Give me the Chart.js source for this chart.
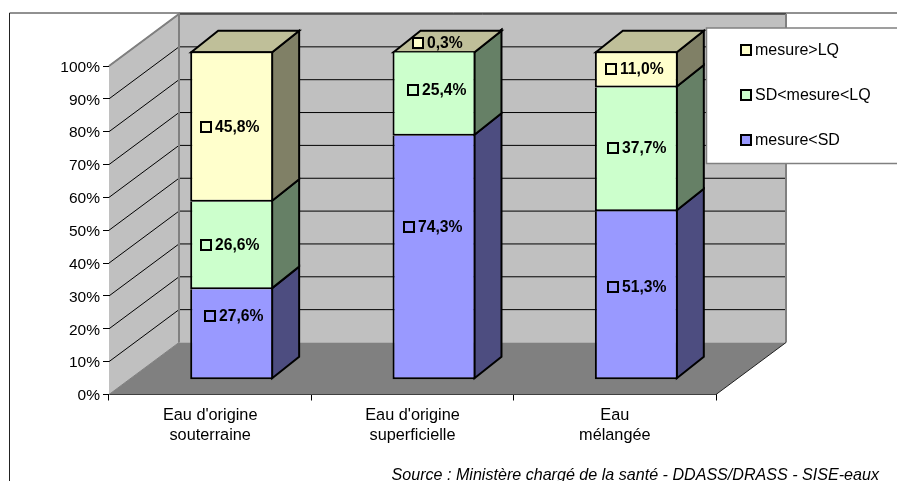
<!DOCTYPE html>
<html>
<head>
<meta charset="utf-8">
<style>html,body{margin:0;padding:0;background:#fff}canvas{display:block}</style>
<script src="https://cdn.jsdelivr.net/npm/chart.js@4"></script>
</head>
<body>
<canvas id="c" width="897" height="481"></canvas>
<script>
const categories = [["Eau d'origine", "souterraine"], ["Eau d'origine", "superficielle"], ["Eau", "mélangée"]];
const belowSD = [27.6, 74.3, 51.3];
const betweenSDLQ = [26.6, 25.4, 37.7];
const aboveLQ = [45.8, 0.3, 11.0];
const seriesNames = ["mesure<SD", "SD<mesure<LQ", "mesure>LQ"];
const sourceText = "Source : Ministère chargé de la santé - DDASS/DRASS - SISE-eaux";
const FONT = '"Liberation Sans", Arial, sans-serif';
const fill = ["#9999FF", "#CCFFCC", "#FFFFCC"];
const side = ["#4D4D80", "#668066", "#808066"];
const topColor = "#BFBF99";
// manual label nudges [dx of key from bar centre, dy from segment centre], per dataset then category
const nudges = [
  [[-27, -18], [-30.5, -31], [-28, -8]],
  [[-31, 0], [-26.5, -4.5], [-28, -1]],
  [[-31, 0], [-21.5, -9], [-30, 0]]
];
const WALL = { dx: 70, dy: -52 };
const BAR = { dx: 21.5, dy: -14.7, depthX: 27, depthY: -21.5 };

function poly(ctx, pts, f, s, w) {
  ctx.beginPath();
  pts.forEach((p, i) => i ? ctx.lineTo(p[0], p[1]) : ctx.moveTo(p[0], p[1]));
  ctx.closePath();
  if (f) { ctx.fillStyle = f; ctx.fill(); }
  if (s) { ctx.strokeStyle = s; ctx.lineWidth = w || 1; ctx.stroke(); }
}

const scene = {
  id: 'scene',
  beforeDatasetsDraw(chart) {
    const { ctx, scales: { x, y } } = chart;
    const L = x.left, R = x.right, B = y.getPixelForValue(0), T = y.getPixelForValue(100);
    const { dx, dy } = WALL;
    ctx.save();
    ctx.strokeStyle = '#222'; ctx.lineWidth = 1;
    ctx.beginPath(); ctx.moveTo(9.5, 481); ctx.lineTo(9.5, 13); ctx.lineTo(897, 13); ctx.stroke();
    poly(ctx, [[L + dx, T + dy], [R + dx, T + dy], [R + dx, B + dy], [L + dx, B + dy]], '#C0C0C0');
    poly(ctx, [[L, T], [L + dx, T + dy], [L + dx, B + dy], [L, B]], '#C0C0C0');
    poly(ctx, [[L, B], [L + dx, B + dy], [R + dx, B + dy], [R, B]], '#808080');
    ctx.strokeStyle = '#000'; ctx.lineWidth = 1;
    for (let v = 10; v <= 100; v += 10) {
      const p = y.getPixelForValue(v);
      ctx.beginPath(); ctx.moveTo(L, p); ctx.lineTo(L + dx, p + dy); ctx.lineTo(R + dx, p + dy); ctx.stroke();
    }
    ctx.strokeStyle = '#808080'; ctx.lineWidth = 2;
    ctx.beginPath(); ctx.moveTo(L, T); ctx.lineTo(L + dx, T + dy); ctx.lineTo(L + dx, B + dy); ctx.stroke();
    ctx.beginPath(); ctx.moveTo(R + dx, T + dy); ctx.lineTo(R + dx, B + dy); ctx.stroke();
    ctx.lineWidth = 1;
    ctx.strokeStyle = '#202020';
    ctx.beginPath(); ctx.moveTo(R + dx, B + dy); ctx.lineTo(R, B); ctx.stroke();
    ctx.strokeStyle = '#808080';
    ctx.beginPath(); ctx.moveTo(L, B); ctx.lineTo(L + dx, B + dy); ctx.stroke();
    chart.data.datasets.forEach((ds, di) => {
      chart.getDatasetMeta(di).data.forEach(el => {
        const r = el.x + el.width / 2 + BAR.dx - 1, t = el.y + BAR.dy + (di === 2 ? 1 : -1), b = el.base + BAR.dy - 1;
        poly(ctx, [[r, t], [r + BAR.depthX, t + BAR.depthY], [r + BAR.depthX, b + BAR.depthY], [r, b]], side[di], '#000', 2);
      });
    });
    chart.getDatasetMeta(2).data.forEach(el => {
      const l = el.x - el.width / 2 + BAR.dx + 1, r = el.x + el.width / 2 + BAR.dx - 1, t = el.y + BAR.dy + 1;
      poly(ctx, [[l, t], [l + BAR.depthX, t + BAR.depthY], [r + BAR.depthX, t + BAR.depthY], [r, t]], topColor, '#000', 2);
    });
    ctx.restore();
    ctx.save();
    ctx.translate(BAR.dx, BAR.dy);
  },
  afterDatasetsDraw(chart) {
    const { ctx } = chart;
    ctx.restore();
    ctx.save();
    ctx.font = 'bold 15.7px ' + FONT;
    ctx.textBaseline = 'middle'; ctx.textAlign = 'left';
    chart.data.datasets.forEach((ds, di) => {
      chart.getDatasetMeta(di).data.forEach((el, i) => {
        const cx = el.x + BAR.dx, cy = (el.y + el.base) / 2 + BAR.dy;
        const [nx, ny] = nudges[di][i];
        const sx = Math.round(cx + nx), sy = Math.round(cy + ny);
        ctx.fillStyle = fill[di]; ctx.fillRect(sx, sy - 5, 10, 10);
        ctx.strokeStyle = '#000'; ctx.lineWidth = 2;
        ctx.strokeRect(sx, sy - 5, 10, 10);
        ctx.fillStyle = '#000';
        ctx.fillText(ds.data[i].toFixed(1).replace('.', ',') + '%', sx + 14, sy + .5);
      });
    });
    ctx.fillStyle = '#fff'; ctx.fillRect(706, 28, 191, 136);
    ctx.strokeStyle = '#808080'; ctx.lineWidth = 1.5;
    ctx.beginPath(); ctx.moveTo(897, 28); ctx.lineTo(706.5, 28); ctx.lineTo(706.5, 163.5); ctx.lineTo(897, 163.5); ctx.stroke();
    ctx.font = '16px ' + FONT;
    [2, 1, 0].forEach((di, row) => {
      const yy = 50 + row * 45;
      ctx.fillStyle = fill[di]; ctx.fillRect(741, yy - 5, 10, 10);
      ctx.strokeStyle = '#000'; ctx.lineWidth = 2; ctx.strokeRect(741, yy - 5, 10, 10);
      ctx.fillStyle = '#000'; ctx.fillText(chart.data.datasets[di].label, 755, yy + .5);
    });
    ctx.font = 'italic 16.1px ' + FONT;
    ctx.textAlign = 'right'; ctx.textBaseline = 'alphabetic';
    ctx.fillText(sourceText, 879, 480);
    ctx.restore();
  }
};

new Chart(document.getElementById('c'), {
  type: 'bar',
  data: {
    labels: categories,
    datasets: [belowSD, betweenSDLQ, aboveLQ].map((d, i) => ({
      label: seriesNames[i], data: d, backgroundColor: fill[i], borderColor: '#000',
      borderWidth: 2, borderSkipped: i === 2 ? false : 'top', clip: false,
      barPercentage: 0.41, categoryPercentage: 1
    }))
  },
  options: {
    responsive: false, animation: false,
    layout: { padding: { left: 0, right: 181, top: 66, bottom: 0 } },
    plugins: { legend: { display: false }, tooltip: { enabled: false }, title: { display: false } },
    scales: {
      x: {
        stacked: true,
        afterFit(s) { s.height = 86.5; },
        grid: { drawOnChartArea: false, offset: true, color: '#000', tickLength: 6 },
        border: { color: '#000' },
        ticks: { color: '#000', font: { family: FONT, size: 16.3, lineHeight: 1.23 }, maxRotation: 0, autoSkip: false, padding: 5 }
      },
      y: {
        stacked: true, min: 0, max: 100,
        afterFit(s) { s.width = 109; },
        grid: { drawOnChartArea: false, color: '#000', tickLength: 6 },
        border: { color: '#000' },
        ticks: { stepSize: 10, color: '#000', font: { family: FONT, size: 15.5 }, padding: 3, labelOffset: 1.5, callback: v => v + '%' }
      }
    }
  },
  plugins: [scene]
});
</script>
</body>
</html>
